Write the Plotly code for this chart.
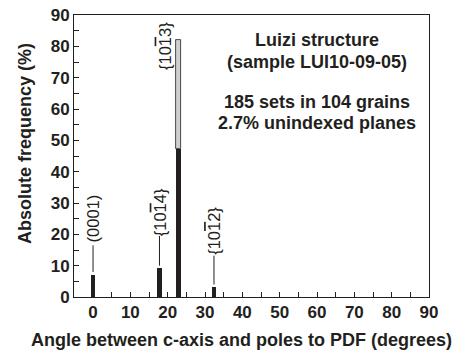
import plotly.graph_objects as go

angles = [0, 17.8, 22.9, 32.4]
freq_black = [6.9, 9.2, 47.2, 3.2]
grey_angle = [22.9]
grey_base = [47.2]
grey_top = [82.0]

OV = "<span style=\"text-decoration:overline\">1</span>"
labels = ["(0001)", "{10" + OV + "4}", "{10" + OV + "3}", "{10" + OV + "2}"]
label_x = [0, 17.8, 19.1, 32.4]
label_y = [25.1, 27.2, 80.2, 21.1]
line_x = [0, 17.8, None, 32.4]
line_y0 = [8.0, 10.0, None, 4.0]
line_y1 = [16.5, 19.5, None, 13.2]

info_lines = ["Luizi structure", "(sample LUI10-09-05)", "185 sets in 104 grains", "2.7% unindexed planes"]
info_y = [82.0, 75.1, 62.3, 55.4]

x_ticks = list(range(0, 91, 10))
y_ticks = list(range(0, 91, 10))

INK = "#231f20"
FONT = "Liberation Sans, Arial, sans-serif"

W, H = 463, 352
L, T, R, B = 74, 15, 429, 297

fig = go.Figure()
fig.add_trace(go.Bar(x=angles, y=freq_black, width=1.3, marker=dict(color=INK, line=dict(width=0)),
                     showlegend=False))
fig.add_trace(go.Bar(x=grey_angle, y=[t - b for t, b in zip(grey_top, grey_base)], base=grey_base,
                     width=1.3, marker=dict(color="#cfcfcf", line=dict(color=INK, width=0.8)),
                     showlegend=False))
for x, a, b in zip(line_x, line_y0, line_y1):
    if x is None:
        continue
    fig.add_trace(go.Scatter(x=[x, x], y=[a, b], mode="lines", line=dict(color=INK, width=1),
                             showlegend=False, hoverinfo="skip"))
for t, x, y in zip(labels, label_x, label_y):
    fig.add_annotation(x=x, y=y, text=t, textangle=-90, showarrow=False,
                       font=dict(family=FONT, size=16.5, color=INK))
for t, y in zip(info_lines, info_y):
    fig.add_annotation(x=60, y=y, xanchor="center", yanchor="middle", showarrow=False,
                       text="<b>%s</b>" % t, font=dict(family=FONT, size=18, color=INK))

fig.add_annotation(xref="paper", yref="paper", x=(241 - L) / (R - L), y=-(340 - B) / (B - T),
                   xanchor="center", yanchor="middle", showarrow=False,
                   text="<b>Angle between c-axis and poles to PDF (degrees)</b>",
                   font=dict(family=FONT, size=18, color=INK))
fig.add_annotation(xref="paper", yref="paper", x=-(L - 25) / (R - L), y=(B - 144) / (B - T),
                   xanchor="center", yanchor="middle", showarrow=False, textangle=-90,
                   text="<b>Absolute frequency (%)</b>",
                   font=dict(family=FONT, size=18, color=INK))

fig.update_layout(
    width=W, height=H,
    margin=dict(l=L, r=W - R, t=T, b=H - B, autoexpand=False),
    paper_bgcolor="white", plot_bgcolor="white", barmode="overlay", bargap=0,
    font=dict(family=FONT, color=INK),
)
fig.update_xaxes(range=[-5.1, 90], tickvals=x_ticks, ticktext=["<b>%d</b>" % v for v in x_ticks],
                 automargin=False, ticklabeloverflow="allow",
                 ticks="inside", ticklen=5, tickcolor=INK, showline=True, linecolor=INK, linewidth=1,
                 mirror=True, showgrid=False, zeroline=False,
                 tickfont=dict(family=FONT, size=17, color=INK),
                 minor=dict(dtick=5, tick0=0, ticks="inside", ticklen=5, tickcolor=INK, showgrid=False))
fig.update_yaxes(range=[0, 90], tickvals=y_ticks, ticktext=["<b>%d</b>" % v for v in y_ticks],
                 automargin=False, ticklabeloverflow="allow", ticks="inside", ticklen=5, tickcolor=INK,
                 showline=True, linecolor=INK, linewidth=1, mirror=True, showgrid=False, zeroline=False,
                 tickfont=dict(family=FONT, size=17, color=INK),
                 minor=dict(dtick=5, ticks="inside", ticklen=5, tickcolor=INK, showgrid=False))

fig.write_html("out.html", config={"displayModeBar": False},
               post_script="document.body.style.margin='0';")
